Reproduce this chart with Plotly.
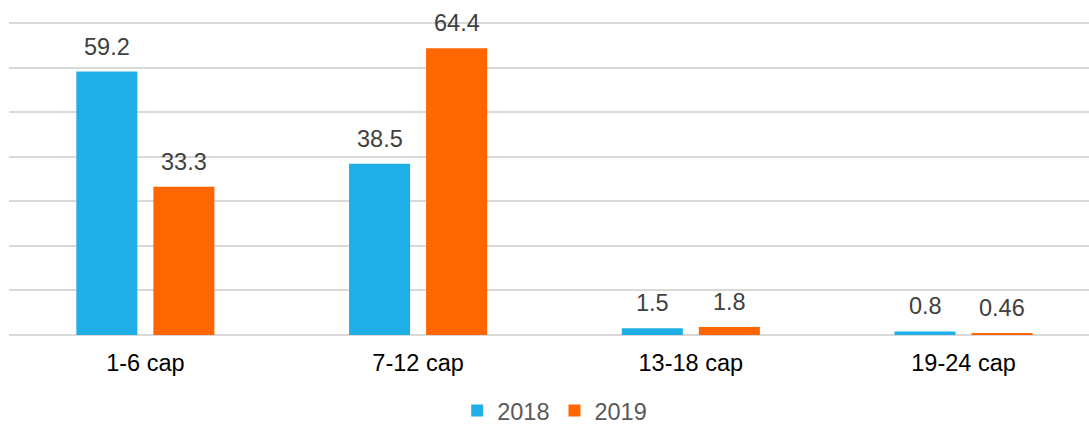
import plotly.graph_objects as go

categories = ["1-6 cap", "7-12 cap", "13-18 cap", "19-24 cap"]
values_2018 = [59.2, 38.5, 1.5, 0.8]
values_2019 = [33.3, 64.4, 1.8, 0.46]
labels_2018 = ["59.2", "38.5", "1.5", "0.8"]
labels_2019 = ["33.3", "64.4", "1.8", "0.46"]
series_names = ["2018", "2019"]

BLUE = "#1FAEE5"
ORANGE = "#FF6600"
FONT = "Liberation Sans, Arial, sans-serif"
FS = 23.5

fig = go.Figure()
fig.add_trace(go.Bar(x=categories, y=values_2018, name=series_names[0],
                     marker=dict(color=BLUE, line=dict(width=0))))
fig.add_trace(go.Bar(x=categories, y=values_2019, name=series_names[1],
                     marker=dict(color=ORANGE, line=dict(width=0))))

annotations = []
for cat, v, t in zip(categories, values_2018, labels_2018):
    annotations.append(dict(x=cat, y=v, text=t, xref="x", yref="y", showarrow=False,
                            xshift=-38.5, yshift=10, yanchor="bottom",
                            font=dict(family=FONT, size=FS, color="#404040")))
for cat, v, t in zip(categories, values_2019, labels_2019):
    annotations.append(dict(x=cat, y=v, text=t, xref="x", yref="y", showarrow=False,
                            xshift=38.5, yshift=10, yanchor="bottom",
                            font=dict(family=FONT, size=FS, color="#404040")))

fig.update_layout(
    width=1089, height=424,
    margin=dict(l=9, r=0, t=19, b=89, autoexpand=False),
    paper_bgcolor="white", plot_bgcolor="white",
    barmode="group", bargap=0.435, bargroupgap=0.208,
    font=dict(family=FONT),
    showlegend=True,
    legend=dict(orientation="h", x=0.415, xanchor="left", y=-0.24, yanchor="middle",
                font=dict(family=FONT, size=FS, color="#595959"),
                itemwidth=30, tracegroupgap=0, bgcolor="rgba(0,0,0,0)"),
    annotations=annotations,
    xaxis=dict(range=[-0.5, 3.46], showgrid=False, zeroline=False, showline=False,
               ticks="outside", ticklen=7, tickcolor="rgba(0,0,0,0)",
               tickfont=dict(family=FONT, size=FS, color="#000000")),
    yaxis=dict(range=[0, 71], tickvals=[0, 10, 20, 30, 40, 50, 60, 70],
               showgrid=True, gridcolor="#D9D9D9", gridwidth=2,
               zeroline=True, zerolinecolor="#D9D9D9", zerolinewidth=2,
               showticklabels=False, showline=False),
)

fig.write_html("out.html", config={"displayModeBar": False},
               post_script="document.body.style.margin='0';")
